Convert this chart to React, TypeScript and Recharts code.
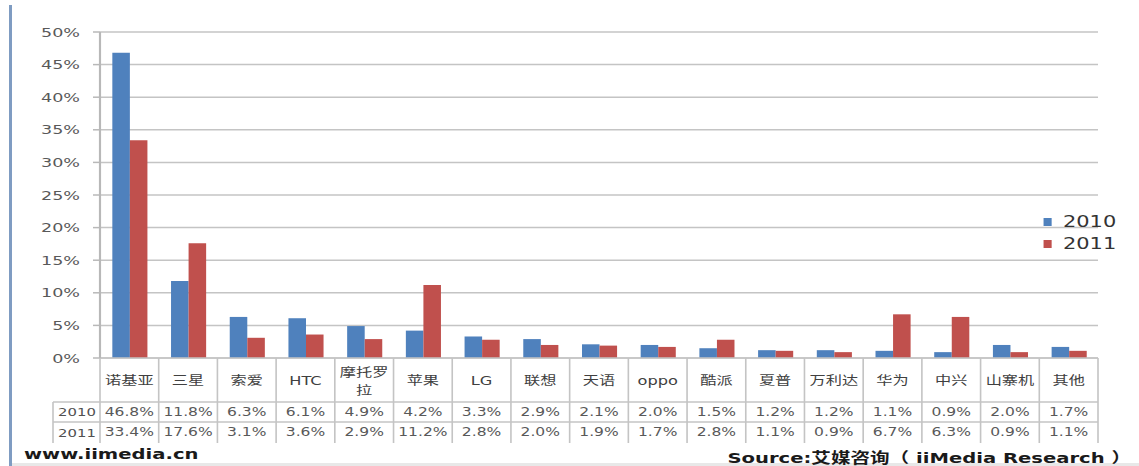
import { Bar, BarChart, CartesianGrid, XAxis, YAxis } from "recharts";

const brands = [
  "诺基亚", "三星", "索爱", "HTC", "摩托罗拉", "苹果", "LG", "联想", "天语",
  "oppo", "酷派", "夏普", "万利达", "华为", "中兴", "山寨机", "其他",
];
const share2010 = [46.8, 11.8, 6.3, 6.1, 4.9, 4.2, 3.3, 2.9, 2.1, 2.0, 1.5, 1.2, 1.2, 1.1, 0.9, 2.0, 1.7];
const share2011 = [33.4, 17.6, 3.1, 3.6, 2.9, 11.2, 2.8, 2.0, 1.9, 1.7, 2.8, 1.1, 0.9, 6.7, 6.3, 0.9, 1.1];
const yTicks = [0, 5, 10, 15, 20, 25, 30, 35, 40, 45, 50];
const years = ["2010", "2011"];

const BLUE = "#4F81BD";
const RED = "#C0504D";
const LINE = "#c4c4c4";
const FONT = "'DejaVu Sans', 'Noto Sans CJK SC', sans-serif";

// the source picture is stretched sideways, so the chart is drawn narrow and widened by S
const S = 1.35;
const W = 1139;
const H = 466;
const IW = W / S;
const PLOT_LEFT = 100 / S;
const PLOT_RIGHT = 1098 / S;
const COL = (PLOT_RIGHT - PLOT_LEFT) / brands.length;

const data = brands.map((b, i) => ({ brand: b, y2010: share2010[i], y2011: share2011[i] }));

// each x tick draws one column of the data table under the plot
function TableTick(props: any) {
  const { x, y, payload } = props;
  const i = payload.index;
  const left = x - COL / 2;
  const row1 = y + 44;
  const row2 = y + 64;
  const bottom = y + 85;
  const name: string = payload.value;
  const lines = name === "摩托罗拉" ? ["摩托罗", "拉"] : [name];
  return (
    <g fontFamily={FONT}>
      <line x1={left} x2={left} y1={y} y2={bottom} stroke={LINE} strokeWidth={1.2} />
      {i === brands.length - 1 && (
        <line x1={left + COL} x2={left + COL} y1={y} y2={bottom} stroke={LINE} strokeWidth={1.2} />
      )}
      {i === 0 && (
        <g>
          <line x1={53 / S} x2={PLOT_RIGHT} y1={row1} y2={row1} stroke={LINE} strokeWidth={1.5} />
          <line x1={53 / S} x2={PLOT_RIGHT} y1={row2} y2={row2} stroke={LINE} strokeWidth={1.5} />
          <line x1={53 / S} x2={53 / S} y1={row1} y2={bottom} stroke={LINE} strokeWidth={1.2} />
          {years.map((yr, k) => (
            <text key={yr} x={77 / S} y={row1 + 14 + k * 21} textAnchor="middle" fontSize={11} fill="#505050">
              {yr}
            </text>
          ))}
        </g>
      )}
      {lines.map((t, k) => (
        <text
          key={k}
          x={x}
          y={(lines.length > 1 ? y + 19 : y + 27) + k * 18}
          textAnchor="middle"
          fontSize={12}
          fill="#404040"
        >
          {t}
        </text>
      ))}
      <text x={x} y={row1 + 14} textAnchor="middle" fontSize={11.5} fill="#595959">
        {share2010[i].toFixed(1)}%
      </text>
      <text x={x} y={row2 + 14} textAnchor="middle" fontSize={11.5} fill="#595959">
        {share2011[i].toFixed(1)}%
      </text>
    </g>
  );
}

export default function App() {
  return (
    <div style={{ position: "absolute", left: 0, top: 0, width: W, height: H, background: "#fff", overflow: "hidden" }}>
      <div style={{ position: "absolute", left: 9, top: 5, width: 3, height: H - 5, background: "#7f9cc2" }} />
      <div style={{ position: "absolute", left: 12, top: 463, width: W - 12, height: 3, background: "#e8e8e8" }} />
      <div
        style={{
          position: "absolute",
          left: 0,
          top: 0,
          width: IW,
          height: H,
          transform: `scaleX(${S})`,
          transformOrigin: "0 0",
          fontFamily: FONT,
        }}
      >
        <BarChart
          width={IW}
          height={H}
          data={data}
          margin={{ top: 32, right: IW - PLOT_RIGHT, bottom: 23, left: 0 }}
          barCategoryGap="21%"
          barGap={0}
        >
          <CartesianGrid vertical={false} stroke={LINE} strokeWidth={1.5} />
          <XAxis
            dataKey="brand"
            interval={0}
            height={85}
            tickLine={false}
            tickSize={0}
            tickMargin={0}
            axisLine={{ stroke: LINE, strokeWidth: 1.5 }}
            tick={<TableTick />}
          />
          <YAxis
            width={PLOT_LEFT}
            domain={[0, 50]}
            ticks={yTicks}
            interval={0}
            tickFormatter={(v) => `${v}%`}
            tickSize={5.2}
            tickMargin={9.6}
            axisLine={{ stroke: "#b8b8b8", strokeWidth: 1.6 }}
            tickLine={{ stroke: "#b8b8b8", strokeWidth: 1.5 }}
            tick={{ fontSize: 13, fill: "#595959", fontFamily: FONT }}
          />
          <Bar dataKey="y2010" fill={BLUE} isAnimationActive={false} />
          <Bar dataKey="y2011" fill={RED} isAnimationActive={false} />
        </BarChart>
        <div style={{ position: "absolute", left: 1043 / S, top: 211 }}>
          {years.map((yr, k) => (
            <div key={yr} style={{ display: "flex", alignItems: "center", height: 22, fontSize: 15.5, color: "#333" }}>
              <span style={{ width: 9 / S, height: 8, background: k === 0 ? BLUE : RED, marginRight: 11 / S }} />
              {yr}
            </div>
          ))}
        </div>
        <div style={{ position: "absolute", left: 24 / S, top: 446, fontSize: 14.5, fontWeight: "bold", color: "#1a1a1a" }}>
          www.iimedia.cn
        </div>
        <div style={{ position: "absolute", right: 8 / S, top: 446, fontSize: 14.5, fontWeight: "bold", color: "#1a1a1a" }}>
          Source:艾媒咨询（ iiMedia Research ）
        </div>
      </div>
    </div>
  );
}
